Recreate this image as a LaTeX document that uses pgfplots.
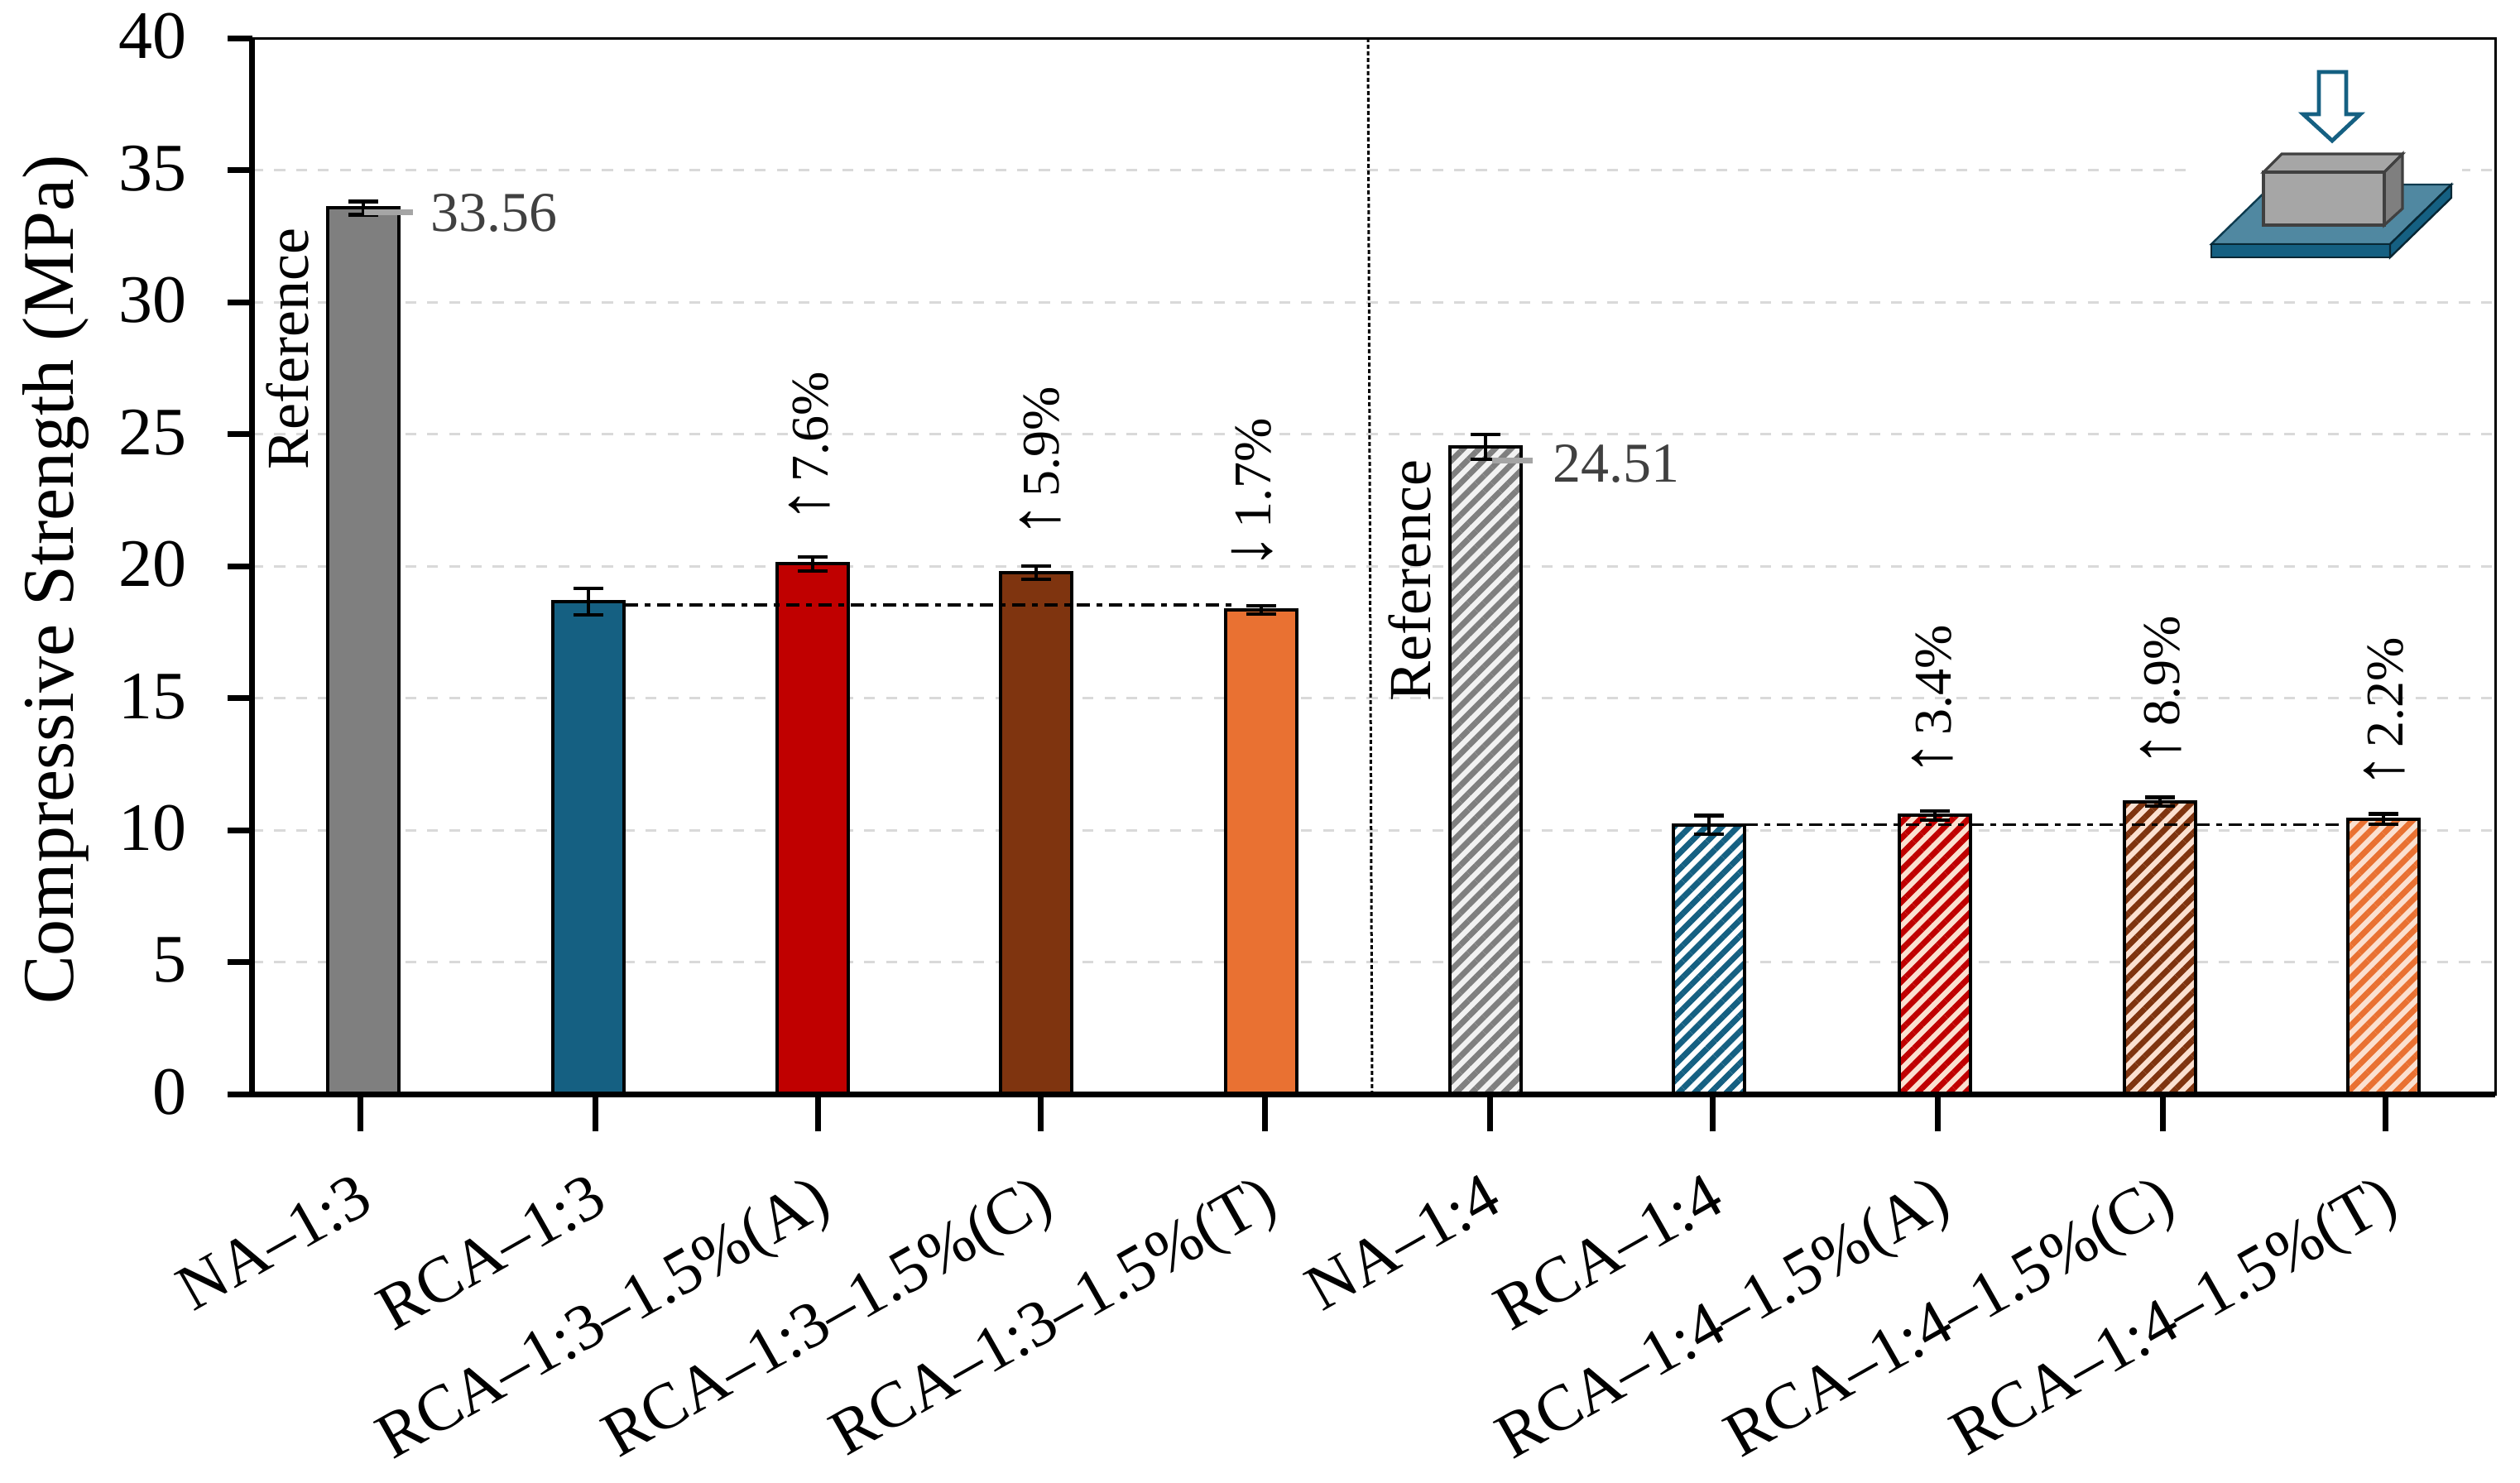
\documentclass[border=0pt]{standalone}
\usepackage{fontspec}
\setmainfont{Liberation Serif}
\usepackage{pgfplots}
\pgfplotsset{compat=1.18}
\usetikzlibrary{patterns.meta}

\definecolor{cgray}{HTML}{7F7F7F}
\definecolor{cblue}{HTML}{156082}
\definecolor{cred}{HTML}{C00000}
\definecolor{cbrown}{HTML}{7F340F}
\definecolor{corange}{HTML}{E97132}
\definecolor{cpeach}{HTML}{FBE0D0}
\definecolor{clight}{HTML}{F2F2F2}
\definecolor{cgrid}{HTML}{D9D9D9}
\definecolor{ctext}{HTML}{404040}

% one bar per plot, x is the measured position in the picture
\pgfplotsset{
  onebar/.style={ybar, bar width=21.5pt, bar shift=0pt, draw=black, line width=1pt,
    error bars/y dir=both, error bars/y explicit,
    error bars/error bar style={line width=1.05pt, black, solid},
    error bars/error mark options={line width=1.05pt, black, mark size=4.4pt, rotate=90}},
  hatch/.style 2 args={onebar, preaction={fill=#2},
    pattern={Lines[angle=45,distance=3.4pt,line width=1.75pt]}, pattern color=#1},
  refline/.style={black, line width=0.9pt, dash pattern=on 4pt off 2pt on 1.75pt off 2pt},
}
% rotated percentage label: arrow, then the number
\newcommand{\pct}[2]{{\fontsize{21}{21}\selectfont #1}\,{\fontsize{16}{16}\selectfont #2\%}}

\begin{document}
\begin{tikzpicture}
\path[use as bounding box] (0,0) rectangle (761.25pt,-447.75pt);
\begin{axis}[
    at={(76.25pt,-330.5pt)}, anchor=south west,
    scale only axis, width=677.5pt, height=319pt,
    /pgf/number format/assume math mode=true,
    clip=false,
    xmin=305, xmax=3015, ymin=0, ymax=40,
    xtick={436,719,988,1257,1528,1800,2069,2341,2613,2882},
    xticklabels={NA--1:3,RCA--1:3,RCA--1:3--1.5\%(A),RCA--1:3--1.5\%(C),RCA--1:3--1.5\%(T),
                 NA--1:4,RCA--1:4,RCA--1:4--1.5\%(A),RCA--1:4--1.5\%(C),RCA--1:4--1.5\%(T)},
    ytick={0,5,...,40},
    tick align=outside, tick pos=left,
    major tick length=11.25pt,
    xtick style={line width=1.75pt, black},
    ytick style={draw=none},
    axis line style={line width=0.75pt},
    ymajorgrids,
    grid style={cgrid, line width=0.75pt, dash pattern=on 3.3pt off 3.3pt},
    xticklabel style={font=\fontsize{19.6}{19.6}\selectfont, rotate=29.5, anchor=north east, inner sep=0pt, xshift=-7.5pt, yshift=-9.5pt},
    yticklabel style={font=\fontsize{20.5}{20.5}\selectfont, anchor=east, inner sep=0pt, xshift=-8.5pt, yshift=0.5pt},
    ylabel={Compressive Strength (MPa)},
    every axis y label/.style={at={(axis description cs:-0.0875,0.487)}, rotate=90, anchor=center, font=\fontsize{22}{22}\selectfont},
]
\addplot[onebar, fill=cgray] coordinates {(439,33.56) +- (0,0.25)};
\addplot[onebar, fill=cblue] coordinates {(711,18.66) +- (0,0.5)};
\addplot[onebar, fill=cred] coordinates {(982,20.08) +- (0,0.27)};
\addplot[onebar, fill=cbrown] coordinates {(1252,19.76) +- (0,0.25)};
\addplot[onebar, fill=corange] coordinates {(1524,18.34) +- (0,0.15)};
\addplot[hatch={cgray}{clight}] coordinates {(1795,24.51) +- (0,0.47)};
\addplot[hatch={cblue}{white}] coordinates {(2065,10.2) +- (0,0.35)};
\addplot[hatch={cred}{cpeach}] coordinates {(2338,10.55) +- (0,0.17)};
\addplot[hatch={cbrown}{cpeach}] coordinates {(2610,11.07) +- (0,0.17)};
\addplot[hatch={corange}{cpeach}] coordinates {(2880,10.42) +- (0,0.19)};

% baselines of the two groups and the divider
\addplot[refline] coordinates {(755,18.52) (1490,18.52)};
\addplot[refline] coordinates {(2108,10.2) (2830,10.2)};
\addplot[black, line width=0.75pt, dash pattern=on 1.2pt off 0.8pt] coordinates {(1653,40) (1658,0)};

% leaders to the reference values
\addplot[cgray!70, line width=1.75pt] coordinates {(440,33.4) (499,33.4)};
\addplot[cgray!70, line width=1.75pt] coordinates {(1803,24) (1852,24)};
\node[anchor=base west, inner sep=0pt, text=ctext, font=\fontsize{17}{17}\selectfont] at (axis cs:520,32.67) {33.56};
\node[anchor=base west, inner sep=0pt, text=ctext, font=\fontsize{17}{17}\selectfont] at (axis cs:1876,23.17) {24.51};

\node[rotate=90, anchor=base west, inner sep=0pt, font=\fontsize{18}{18}\selectfont] at (axis cs:373,23.64) {Reference};
\node[rotate=90, anchor=base west, inner sep=0pt, font=\fontsize{18}{18}\selectfont] at (axis cs:1728,14.86) {Reference};

% change against the RCA bar of each group
\node[rotate=90, anchor=base west, inner sep=0pt] at (axis cs:1000,21.63) {\pct{↑}{7.6}};
\node[rotate=90, anchor=base west, inner sep=0pt] at (axis cs:1279,21.07) {\pct{↑}{5.9}};
\node[rotate=90, anchor=base west, inner sep=0pt] at (axis cs:1535,19.87) {\pct{↓}{1.7}};
\node[rotate=90, anchor=base west, inner sep=0pt] at (axis cs:2357,12.04) {\pct{↑}{3.4}};
\node[rotate=90, anchor=base west, inner sep=0pt] at (axis cs:2633,12.38) {\pct{↑}{8.9}};
\node[rotate=90, anchor=base west, inner sep=0pt] at (axis cs:2903,11.57) {\pct{↑}{2.2}};

% heavy left and bottom axes with their ticks
\pgfplotsinvokeforeach{0,5,10,15,20,25,30,35,40}{
  \draw[black, line width=1.75pt] ([xshift=-7.5pt]axis cs:305,#1) -- (axis cs:305,#1);
}
\draw[black, line width=1.75pt] (axis cs:305,0) -- (axis cs:305,40);
\draw[black, line width=1.75pt] ([xshift=-7.5pt]axis cs:305,0) -- (axis cs:3015,0);
\end{axis}

% loading sketch, in picture pixels from the top left
\begin{scope}[x=0.25pt, y=-0.25pt, line join=miter]
\fill[white] (2642,190) rectangle (2975,225);
\draw[cblue!60!black, line width=0.6pt, fill=cblue!75!white]
  (2672,295) -- (2888,295) -- (2962,223) -- (2746,223) -- cycle;
\draw[cblue!40!black, line width=0.6pt, fill=cblue]
  (2672,295) -- (2888,295) -- (2888,311) -- (2672,311) -- cycle;
\draw[cblue!40!black, line width=0.6pt, fill=cblue]
  (2888,295) -- (2962,223) -- (2962,239) -- (2888,311) -- cycle;
\draw[ctext, line width=0.8pt, fill=black!35] (2735,208) -- (2757,186) -- (2903,186) -- (2881,208) -- cycle;
\draw[ctext, line width=0.8pt, fill=cgray] (2881,208) -- (2903,186) -- (2903,252) -- (2881,272) -- cycle;
\draw[ctext, line width=0.8pt, fill=black!35] (2735,208) rectangle (2881,272);
\draw[cblue, line width=1.2pt, fill=white]
  (2802,87) -- (2835,87) -- (2835,138) -- (2852,138) -- (2818,170) -- (2783,138) -- (2802,138) -- cycle;
\end{scope}
\end{tikzpicture}
\end{document}
